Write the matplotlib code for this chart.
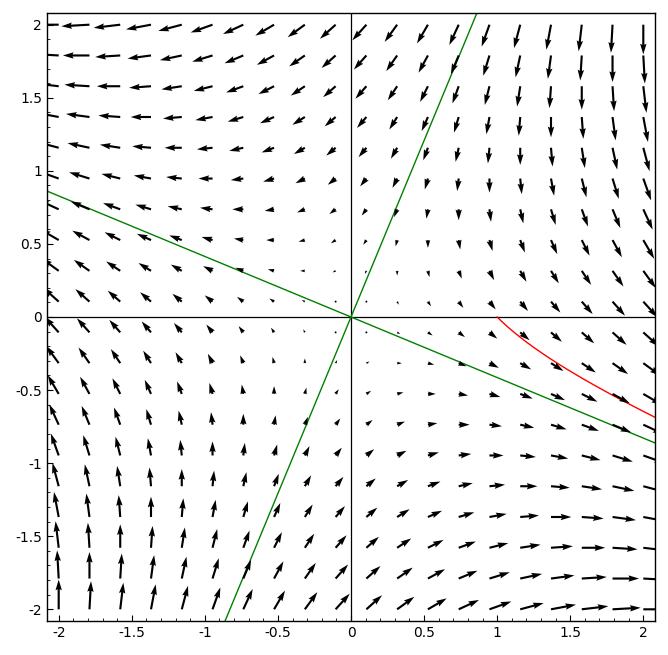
import matplotlib
matplotlib.use("Agg")

import matplotlib.pyplot as plt
import numpy as np
from matplotlib.ticker import FixedLocator, MultipleLocator, FixedFormatter

# -----------------------------
# Datos: sistema lineal x' = A x
# -----------------------------

A = np.array([[1.0, -1.0],
              [-1.0, -1.0]])

grid_x = np.linspace(-2, 2, 20)
grid_y = np.linspace(-2, 2, 20)

start_point = np.array([1.0, 0.0])
t_end = 0.7

tick_values = [-2, -1.5, -1, -0.5, 0, 0.5, 1, 1.5, 2]
tick_labels = ["-2", "-1.5", "-1", "-0.5", "0", "0.5", "1", "1.5", "2"]

lim = 2.08

# -----------------------------
# Campo vectorial
# -----------------------------

X, Y = np.meshgrid(grid_x, grid_y)
U = A[0, 0] * X + A[0, 1] * Y
V = A[1, 0] * X + A[1, 1] * Y

# autovectores (rectas invariantes)
evals, evecs = np.linalg.eigh(A)

# trayectoria desde start_point
t = np.linspace(0, t_end, 300)
coef = evecs.T @ start_point
traj = np.array([evecs @ (coef * np.exp(evals * ti)) for ti in t])

fig = plt.figure(figsize=(6.68, 6.55), dpi=100)
ax = fig.add_axes([47 / 668, 1 - 621 / 655, 608 / 668, 608 / 655])

ax.quiver(X, Y, U, V, angles="xy", color="black", width=0.0035, zorder=3)

xs = np.array([-lim, lim])
for k in range(2):
    vx, vy = evecs[:, k]
    ax.plot(xs, xs * vy / vx, color="green", lw=1, zorder=2)

ax.plot(traj[:, 0], traj[:, 1], color="red", lw=1, zorder=2)

ax.axhline(0, color="black", lw=0.9, zorder=1)
ax.axvline(0, color="black", lw=0.9, zorder=1)

ax.set_xlim(-lim, lim)
ax.set_ylim(-lim, lim)

for axis in (ax.xaxis, ax.yaxis):
    axis.set_major_locator(FixedLocator(tick_values))
    axis.set_major_formatter(FixedFormatter(tick_labels))
    axis.set_minor_locator(MultipleLocator(0.1))

ax.tick_params(which="both", direction="in", top=False, right=False,
               labelsize=10)
ax.tick_params(which="major", length=4.5)
ax.tick_params(which="minor", length=2)

for spine in ax.spines.values():
    spine.set_linewidth(1)

plt.savefig("out.png", dpi=100)
plt.close("all")
